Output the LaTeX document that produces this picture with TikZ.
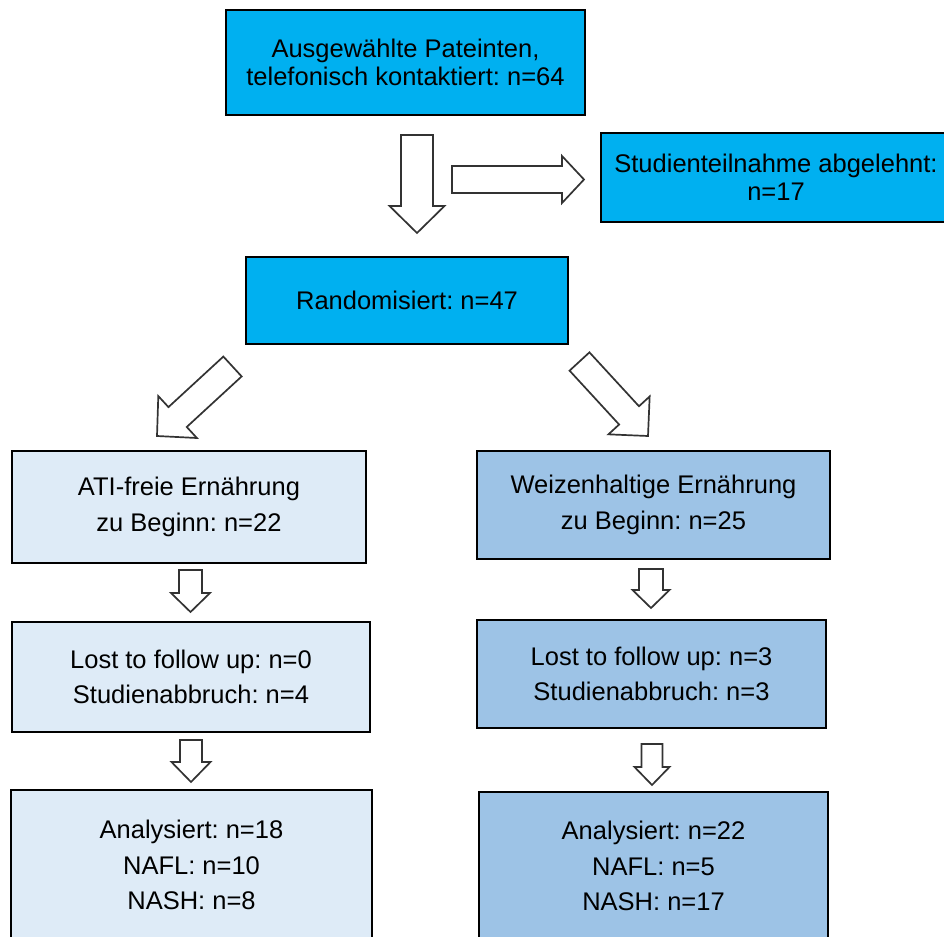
\documentclass[tikz,border=0pt]{standalone}
\usepackage{fontspec}
\setmainfont{Liberation Sans}
\usetikzlibrary{calc}
\definecolor{cyanbox}{HTML}{00B0F0}
\definecolor{paleblue}{HTML}{DEEBF7}
\definecolor{midblue}{HTML}{9DC3E6}
\definecolor{arrowline}{HTML}{333333}
\frenchspacing
% block arrow: #1 tail coordinate, #2 tip coordinate, #3 half shaft, #4 half head, #5 head length
\newcommand\blockarr[5]{%
  \coordinate (#1-hb) at ($(#2)!#5!(#1)$);
  \draw[blockarrow] ($(#1)!#3!90:(#2)$) -- ($(#1-hb)!#3!-90:(#1)$) -- ($(#1-hb)!#4!-90:(#1)$) -- (#2)
    -- ($(#1-hb)!#4!90:(#1)$) -- ($(#1-hb)!#3!90:(#1)$) -- ($(#1)!#3!-90:(#2)$) -- cycle;}
\begin{document}
\begin{tikzpicture}[x=1pt,y=-1pt,
  box/.style={draw=black, line width=1.3pt, inner sep=0pt, align=center, text=black},
  topbox/.style={box, fill=cyanbox, font=\fontsize{25.5}{27.5}\selectfont\frenchspacing},
  lowbox/.style={box, font=\fontsize{25.5}{35.5}\selectfont\frenchspacing},
  blockarrow/.style={draw=arrowline, fill=white, line width=1.7pt, line join=miter}]
\useasboundingbox[fill=white] (0,0) rectangle (944,936);

% boxes
\node[topbox, minimum width=359pt, minimum height=105pt] (contact) at (405.5,62.5)
  {Ausgewählte Pateinten,\\telefonisch kontaktiert: n=64};
\node[topbox, minimum width=350pt, minimum height=89pt] (refused) at (776,177.5)
  {Studienteilnahme abgelehnt:\\n=17};
\node[topbox, minimum width=322pt, minimum height=87pt] (random) at (407,300.5)
  {Randomisiert: n=47};

\node[lowbox, fill=paleblue, minimum width=354pt, minimum height=112pt] (ati1) at (189,507)
  {ATI-freie Ernährung\\zu Beginn: n=22};
\node[lowbox, fill=midblue, minimum width=353pt, minimum height=108pt] (wz1) at (653.5,505)
  {Weizenhaltige Ernährung\\zu Beginn: n=25};
\node[lowbox, fill=paleblue, minimum width=358pt, minimum height=110pt] (ati2) at (191,677)
  {Lost to follow up: n=0\\Studienabbruch: n=4};
\node[lowbox, fill=midblue, minimum width=349pt, minimum height=108pt] (wz2) at (651.5,674)
  {Lost to follow up: n=3\\Studienabbruch: n=3};
\node[lowbox, fill=paleblue, minimum width=361pt, minimum height=150pt] (ati3) at (191.5,865)
  {Analysiert: n=18\\NAFL: n=10\\NASH: n=8};
\node[lowbox, fill=midblue, minimum width=349pt, minimum height=148pt] (wz3) at (653.5,866)
  {Analysiert: n=22\\NAFL: n=5\\NASH: n=17};

% block arrows
\coordinate (a1t) at (417,135);   \coordinate (a1p) at (417,233);
\coordinate (a2t) at (452,179.5); \coordinate (a2p) at (584,179.5);
\coordinate (a3t) at (232.5,366.5); \coordinate (a3p) at (157,436);
\coordinate (a4t) at (579.5,361.5); \coordinate (a4p) at (648,436);
\coordinate (a5t) at (190.5,570); \coordinate (a5p) at (190.5,612);
\coordinate (a6t) at (191,740);   \coordinate (a6p) at (191,782);
\coordinate (a7t) at (651,569);   \coordinate (a7p) at (651,608);
\coordinate (a8t) at (652,744);   \coordinate (a8p) at (652,785);

\blockarr{a1t}{a1p}{16pt}{27.5pt}{27pt}
\blockarr{a2t}{a2p}{13.5pt}{23.5pt}{22pt}
\blockarr{a3t}{a3p}{13.5pt}{28.5pt}{28pt}
\blockarr{a4t}{a4p}{13.5pt}{28pt}{28pt}
\blockarr{a5t}{a5p}{11.5pt}{19.5pt}{19pt}
\blockarr{a6t}{a6p}{11pt}{19.5pt}{20pt}
\blockarr{a7t}{a7p}{12pt}{18.5pt}{18pt}
\blockarr{a8t}{a8p}{10.5pt}{17.5pt}{18pt}
\end{tikzpicture}
\end{document}
